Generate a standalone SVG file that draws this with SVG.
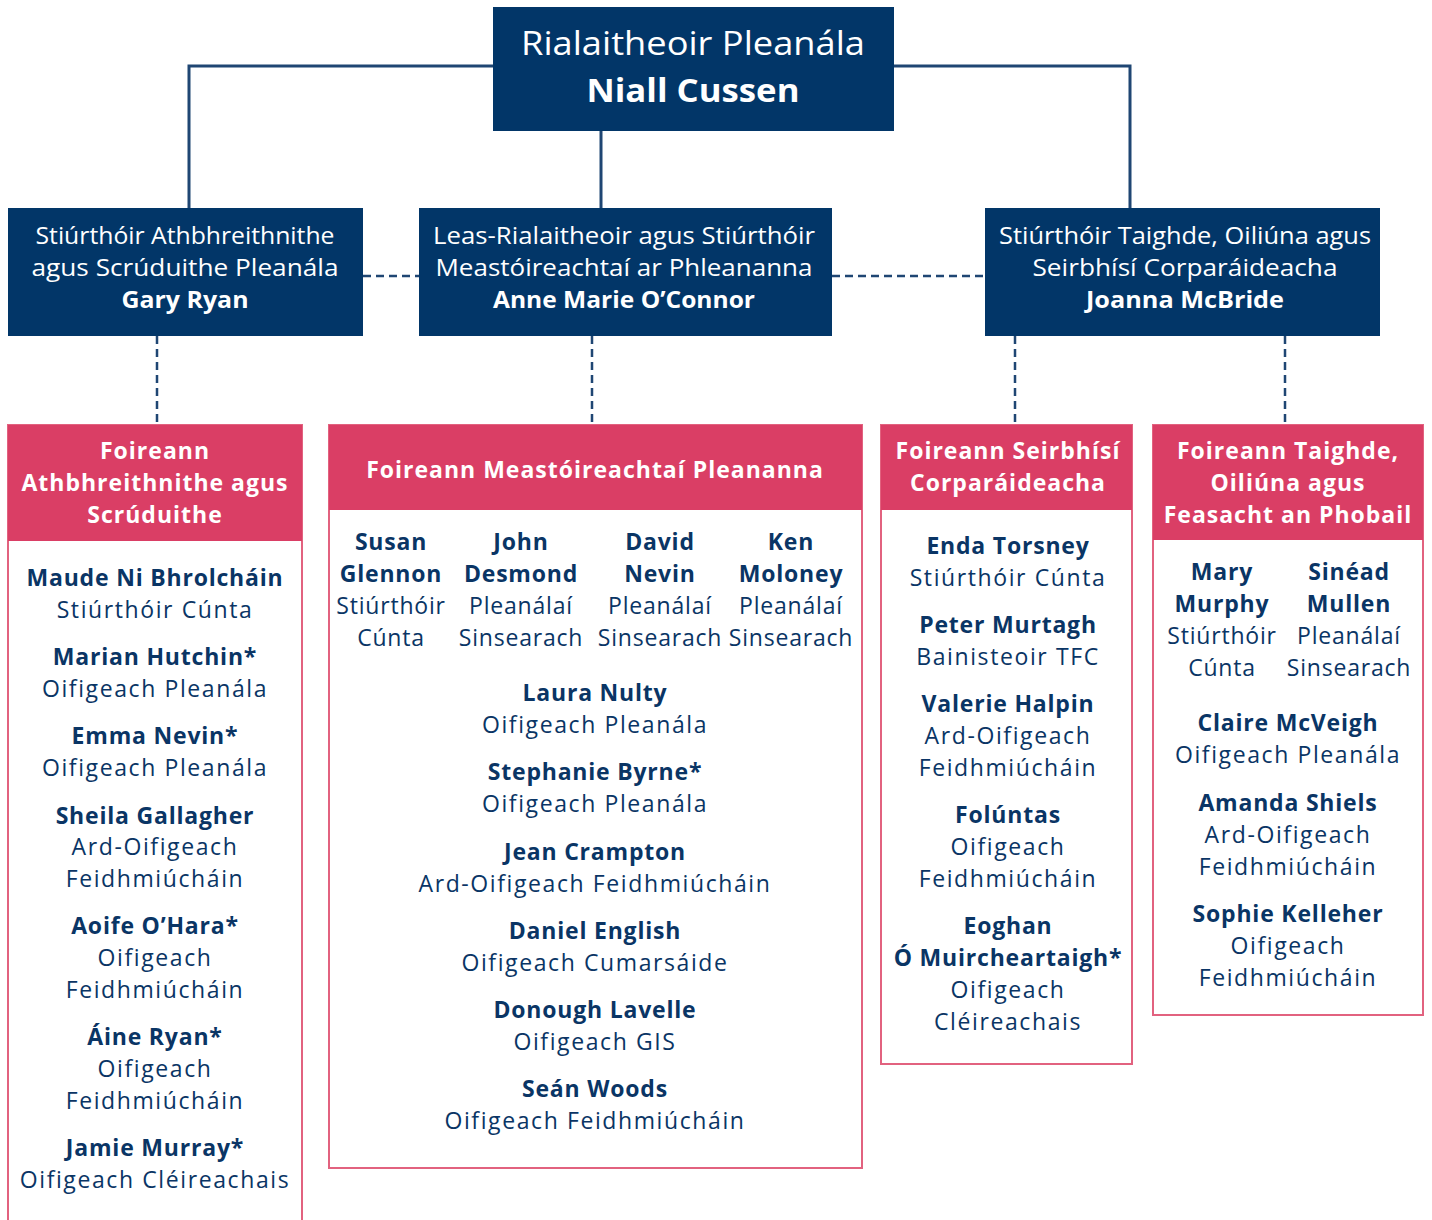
<svg xmlns="http://www.w3.org/2000/svg" width="1432" height="1220" viewBox="0 0 1432 1220">
<style>
.navy{fill:#023668}
.pink{fill:#DA3E65}
.team{fill:#fff;stroke:#E2627F;stroke-width:2}
.solid{fill:none;stroke:#1F4673;stroke-width:3}
.dash{fill:none;stroke:#1F4673;stroke-width:2.5;stroke-dasharray:8 5}
text{font-family:"Open Sans","Liberation Sans",sans-serif;text-anchor:middle}
.tw{fill:#fff;font-size:23px}
.twb{fill:#fff;font-size:23px;font-weight:700}
.hd{fill:#fff;font-size:23px;font-weight:700;letter-spacing:1px}
.nm{fill:#0A3565;font-size:23px;font-weight:700;letter-spacing:0.8px}
.rl{fill:#0A3565;font-size:23px;letter-spacing:1.6px}
.rc{fill:#0A3565;font-size:23px;letter-spacing:0.8px}
</style>
<g id="connectors">
<polyline class="solid" points="493,66 189,66 189,208"/>
<polyline class="solid" points="894,66 1130,66 1130,208"/>
<line class="solid" x1="601" y1="131" x2="601" y2="208"/>
<line class="dash" x1="363" y1="276" x2="419" y2="276"/>
<line class="dash" x1="832" y1="276" x2="985" y2="276"/>
<line class="dash" x1="157" y1="336" x2="157" y2="425"/>
<line class="dash" x1="592" y1="336" x2="592" y2="425"/>
<line class="dash" x1="1015" y1="336" x2="1015" y2="425"/>
<line class="dash" x1="1285" y1="336" x2="1285" y2="425"/>
</g>
<g id="top">
<rect class="navy" x="493" y="7" width="401" height="124"/>
<text class="tw" x="693" y="55" style="font-size:33px" textLength="344" lengthAdjust="spacingAndGlyphs">Rialaitheoir Pleanála</text>
<text class="twb" x="693" y="102" style="font-size:33px" textLength="213" lengthAdjust="spacingAndGlyphs">Niall Cussen</text>
</g>
<g id="dir1">
<rect class="navy" x="8" y="208" width="355" height="128"/>
<text class="tw" x="185" y="244" textLength="299" lengthAdjust="spacingAndGlyphs">Stiúrthóir Athbhreithnithe</text>
<text class="tw" x="185" y="276" textLength="307" lengthAdjust="spacingAndGlyphs">agus Scrúduithe Pleanála</text>
<text class="twb" x="185" y="308" textLength="127" lengthAdjust="spacingAndGlyphs">Gary Ryan</text>
</g>
<g id="dir2">
<rect class="navy" x="419" y="208" width="413" height="128"/>
<text class="tw" x="624" y="244" textLength="382" lengthAdjust="spacingAndGlyphs">Leas-Rialaitheoir agus Stiúrthóir</text>
<text class="tw" x="624" y="276" textLength="377" lengthAdjust="spacingAndGlyphs">Meastóireachtaí ar Phleananna</text>
<text class="twb" x="624" y="308" textLength="262" lengthAdjust="spacingAndGlyphs">Anne Marie O’Connor</text>
</g>
<g id="dir3">
<rect class="navy" x="985" y="208" width="395" height="128"/>
<text class="tw" x="1185" y="244" textLength="372" lengthAdjust="spacingAndGlyphs">Stiúrthóir Taighde, Oiliúna agus</text>
<text class="tw" x="1185" y="276" textLength="305" lengthAdjust="spacingAndGlyphs">Seirbhísí Corparáideacha</text>
<text class="twb" x="1185" y="308" textLength="198" lengthAdjust="spacingAndGlyphs">Joanna McBride</text>
</g>
<g id="teamA">
<rect class="team" x="8" y="425" width="294" height="800"/>
<rect class="pink" x="8" y="425" width="294" height="116"/>
<text class="hd" x="155" y="459">Foireann</text>
<text class="hd" x="155" y="491">Athbhreithnithe agus</text>
<text class="hd" x="155" y="523">Scrúduithe</text>
<text class="nm" x="155" y="586">Maude Ni Bhrolcháin</text>
<text class="rl" x="155" y="618">Stiúrthóir Cúnta</text>
<text class="nm" x="155" y="665">Marian Hutchin*</text>
<text class="rl" x="155" y="697">Oifigeach Pleanála</text>
<text class="nm" x="155" y="744">Emma Nevin*</text>
<text class="rl" x="155" y="776">Oifigeach Pleanála</text>
<text class="nm" x="155" y="824">Sheila Gallagher</text>
<text class="rl" x="155" y="855">Ard-Oifigeach</text>
<text class="rl" x="155" y="887">Feidhmiúcháin</text>
<text class="nm" x="155" y="934">Aoife O’Hara*</text>
<text class="rl" x="155" y="966">Oifigeach</text>
<text class="rl" x="155" y="998">Feidhmiúcháin</text>
<text class="nm" x="155" y="1045">Áine Ryan*</text>
<text class="rl" x="155" y="1077">Oifigeach</text>
<text class="rl" x="155" y="1109">Feidhmiúcháin</text>
<text class="nm" x="155" y="1156">Jamie Murray*</text>
<text class="rl" x="155" y="1188">Oifigeach Cléireachais</text>
</g>
<g id="teamB">
<rect class="team" x="329" y="425" width="533" height="743"/>
<rect class="pink" x="329" y="425" width="533" height="85"/>
<text class="hd" x="595" y="478">Foireann Meastóireachtaí Pleananna</text>
<text class="nm" x="391" y="550">Susan</text>
<text class="nm" x="391" y="582">Glennon</text>
<text class="rc" x="391" y="614">Stiúrthóir</text>
<text class="rc" x="391" y="646">Cúnta</text>
<text class="nm" x="521" y="550">John</text>
<text class="nm" x="521" y="582">Desmond</text>
<text class="rc" x="521" y="614">Pleanálaí</text>
<text class="rc" x="521" y="646">Sinsearach</text>
<text class="nm" x="660" y="550">David</text>
<text class="nm" x="660" y="582">Nevin</text>
<text class="rc" x="660" y="614">Pleanálaí</text>
<text class="rc" x="660" y="646">Sinsearach</text>
<text class="nm" x="791" y="550">Ken</text>
<text class="nm" x="791" y="582">Moloney</text>
<text class="rc" x="791" y="614">Pleanálaí</text>
<text class="rc" x="791" y="646">Sinsearach</text>
<text class="nm" x="595" y="701">Laura Nulty</text>
<text class="rl" x="595" y="733">Oifigeach Pleanála</text>
<text class="nm" x="595" y="780">Stephanie Byrne*</text>
<text class="rl" x="595" y="812">Oifigeach Pleanála</text>
<text class="nm" x="595" y="860">Jean Crampton</text>
<text class="rl" x="595" y="892">Ard-Oifigeach Feidhmiúcháin</text>
<text class="nm" x="595" y="939">Daniel English</text>
<text class="rl" x="595" y="971">Oifigeach Cumarsáide</text>
<text class="nm" x="595" y="1018">Donough Lavelle</text>
<text class="rl" x="595" y="1050">Oifigeach GIS</text>
<text class="nm" x="595" y="1097">Seán Woods</text>
<text class="rl" x="595" y="1129">Oifigeach Feidhmiúcháin</text>
</g>
<g id="teamC">
<rect class="team" x="881" y="425" width="251" height="639"/>
<rect class="pink" x="881" y="425" width="251" height="85"/>
<text class="hd" x="1008" y="459">Foireann Seirbhísí</text>
<text class="hd" x="1008" y="491">Corparáideacha</text>
<text class="nm" x="1008" y="554">Enda Torsney</text>
<text class="rl" x="1008" y="586">Stiúrthóir Cúnta</text>
<text class="nm" x="1008" y="633">Peter Murtagh</text>
<text class="rl" x="1008" y="665">Bainisteoir TFC</text>
<text class="nm" x="1008" y="712">Valerie Halpin</text>
<text class="rl" x="1008" y="744">Ard-Oifigeach</text>
<text class="rl" x="1008" y="776">Feidhmiúcháin</text>
<text class="nm" x="1008" y="823">Folúntas</text>
<text class="rl" x="1008" y="855">Oifigeach</text>
<text class="rl" x="1008" y="887">Feidhmiúcháin</text>
<text class="nm" x="1008" y="934">Eoghan</text>
<text class="nm" x="1008" y="966">Ó Muircheartaigh*</text>
<text class="rl" x="1008" y="998">Oifigeach</text>
<text class="rl" x="1008" y="1030">Cléireachais</text>
</g>
<g id="teamD">
<rect class="team" x="1153" y="425" width="270" height="590"/>
<rect class="pink" x="1153" y="425" width="270" height="115"/>
<text class="hd" x="1288" y="459">Foireann Taighde,</text>
<text class="hd" x="1288" y="491">Oiliúna agus</text>
<text class="hd" x="1288" y="523">Feasacht an Phobail</text>
<text class="nm" x="1222" y="580">Mary</text>
<text class="nm" x="1222" y="612">Murphy</text>
<text class="rc" x="1222" y="644">Stiúrthóir</text>
<text class="rc" x="1222" y="676">Cúnta</text>
<text class="nm" x="1349" y="580">Sinéad</text>
<text class="nm" x="1349" y="612">Mullen</text>
<text class="rc" x="1349" y="644">Pleanálaí</text>
<text class="rc" x="1349" y="676">Sinsearach</text>
<text class="nm" x="1288" y="731">Claire McVeigh</text>
<text class="rl" x="1288" y="763">Oifigeach Pleanála</text>
<text class="nm" x="1288" y="811">Amanda Shiels</text>
<text class="rl" x="1288" y="843">Ard-Oifigeach</text>
<text class="rl" x="1288" y="875">Feidhmiúcháin</text>
<text class="nm" x="1288" y="922">Sophie Kelleher</text>
<text class="rl" x="1288" y="954">Oifigeach</text>
<text class="rl" x="1288" y="986">Feidhmiúcháin</text>
</g>
</svg>
